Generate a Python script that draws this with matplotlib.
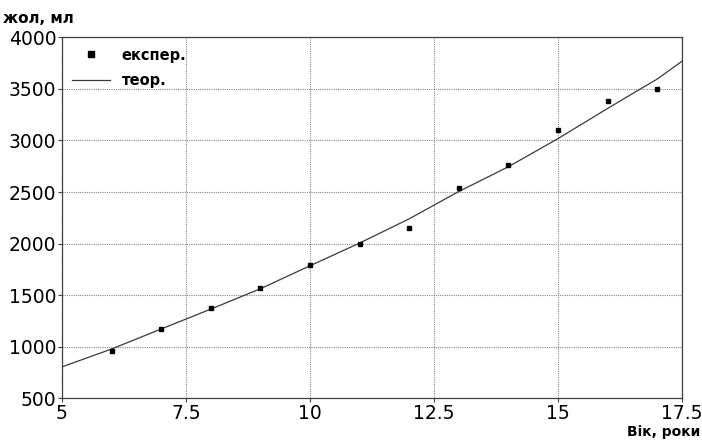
import numpy as np
import matplotlib
matplotlib.use('Agg')
import matplotlib.pyplot as plt

plt.rcParams['font.family'] = ['DejaVu Sans']

# experimental points
age_exp = [6, 7, 8, 9, 10, 11, 12, 13, 14, 15, 16, 17]
vol_exp = [955, 1170, 1375, 1568, 1792, 1995, 2155, 2538, 2760, 3105, 3378, 3500]

# theoretical curve
age_th = [5, 6, 7, 8, 9, 10, 11, 12, 13, 14, 15, 16, 16.4, 17, 17.5]
vol_th = [805, 978, 1172, 1365, 1562, 1785, 2005, 2240, 2505, 2745, 3018, 3310, 3425, 3595, 3768]

xticks = [5, 7.5, 10, 12.5, 15, 17.5]
xticklabels = ['5', '7.5', '10', '12.5', '15', '17.5']
yticks = [500, 1000, 1500, 2000, 2500, 3000, 3500, 4000]

fig = plt.figure(figsize=(7.02, 4.41), dpi=100)
ax = fig.add_axes([0.0883, 0.0968, 0.8832, 0.8186])

ax.plot(age_exp, vol_exp, 's', color='black', markersize=3.5, label='експер.', zorder=3)
ax.plot(age_th, vol_th, '-', color='#3a3a3a', linewidth=0.9, label='теор.', zorder=2)

ax.set_xlim(5, 17.5)
ax.set_ylim(500, 4000)
ax.set_xticks(xticks)
ax.set_xticklabels(xticklabels)
ax.set_yticks(yticks)
ax.tick_params(axis='both', direction='out', length=3, width=0.8, color='#404040',
               labelsize=13.5, pad=1)
ax.grid(True, linestyle=(0, (1, 1)), color='#8a8a8a', linewidth=0.8)
for s in ax.spines.values():
    s.set_color('#404040')
    s.set_linewidth(0.9)

leg = ax.legend(loc='upper left', frameon=False, prop={'weight': 'bold', 'size': 10.5},
                handlelength=2.6, borderaxespad=0.3, labelspacing=0.75, markerscale=1.3)

fig.text(0.004, 0.975, 'жол, мл', fontsize=11, fontweight='bold', ha='left', va='top')
fig.text(0.997, 0.005, 'Вік, роки', fontsize=10, fontweight='bold', ha='right', va='bottom')

fig.savefig('out.png', dpi=100)
